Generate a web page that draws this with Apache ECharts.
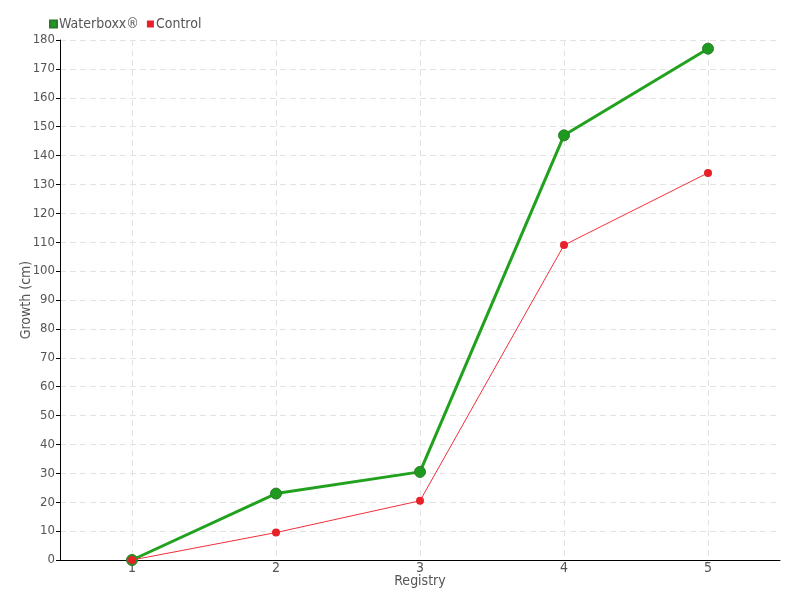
<!DOCTYPE html>
<html><head><meta charset="utf-8">
<script src="https://cdn.jsdelivr.net/npm/echarts@6/dist/echarts.min.js"></script>
<style>html,body{margin:0;padding:0;background:#fff}#c{width:800px;height:600px}</style>
</head><body><div id="c"></div>
<script>
const categories = ['1','2','3','4','5'];
const waterboxx = [0, 23, 30.5, 147, 177];
const control = [0, 9.5, 20.5, 109, 134];
const FONT = '"DejaVu Sans Condensed", "Liberation Sans Narrow", sans-serif';
const chart = echarts.init(document.getElementById('c'));
chart.setOption({
  animation: false,
  textStyle: {fontFamily: FONT, color: '#555'},
  legend: {
    left: 44, top: 12, itemWidth: 7, itemHeight: 7, itemGap: 8,
    icon: 'rect',
    textStyle: {fontFamily: FONT, fontSize: 14, color: '#555', padding: [0,0,0,-3]},
    data: ['Waterboxx®', 'Control']
  },
  grid: {left: 60, right: 20, top: 40, bottom: 40, containLabel: false, outerBoundsMode: 'none'},
  xAxis: {
    type: 'category', data: categories, boundaryGap: true,
    name: 'Registry', nameLocation: 'middle', nameGap: 14, nameMoveOverlap: false,
    nameTextStyle: {fontFamily: FONT, fontSize: 14, color: '#555'},
    axisLine: {lineStyle: {color: '#000', width: 1}},
    axisTick: {alignWithLabel: true, length: 4, lineStyle: {color: '#555'}},
    axisLabel: {fontFamily: FONT, fontSize: 14, color: '#555', margin: 1},
    splitLine: {show: true, alignWithLabel: true, lineStyle: {color: '#e3e3e3', type: [6, 4]}}
  },
  yAxis: {
    type: 'value', min: 0, max: 180, interval: 10,
    name: 'Growth (cm)', nameLocation: 'middle', nameGap: 27, nameMoveOverlap: false,
    nameTextStyle: {fontFamily: FONT, fontSize: 14, color: '#555'},
    axisLine: {show: true, lineStyle: {color: '#000', width: 1}},
    axisTick: {show: true, length: 4, lineStyle: {color: '#000'}},
    axisLabel: {fontFamily: FONT, fontSize: 13, color: '#555', margin: 5},
    splitLine: {show: true, lineStyle: {color: '#e3e3e3', type: [6, 4]}}
  },
  series: [
    {
      name: 'Waterboxx®', type: 'line', data: waterboxx, z: 2,
      symbol: 'circle', symbolSize: 11,
      lineStyle: {color: '#22a11f', width: 3},
      itemStyle: {color: '#1e9a1e', borderColor: '#2a7a2a', borderWidth: 1}
    },
    {
      name: 'Control', type: 'line', data: control, z: 3,
      symbol: 'circle', symbolSize: 8,
      lineStyle: {color: '#f0303c', width: 1},
      itemStyle: {color: '#e8202a', borderColor: '#e8202a', borderWidth: 0}
    }
  ]
});
</script></body></html>
